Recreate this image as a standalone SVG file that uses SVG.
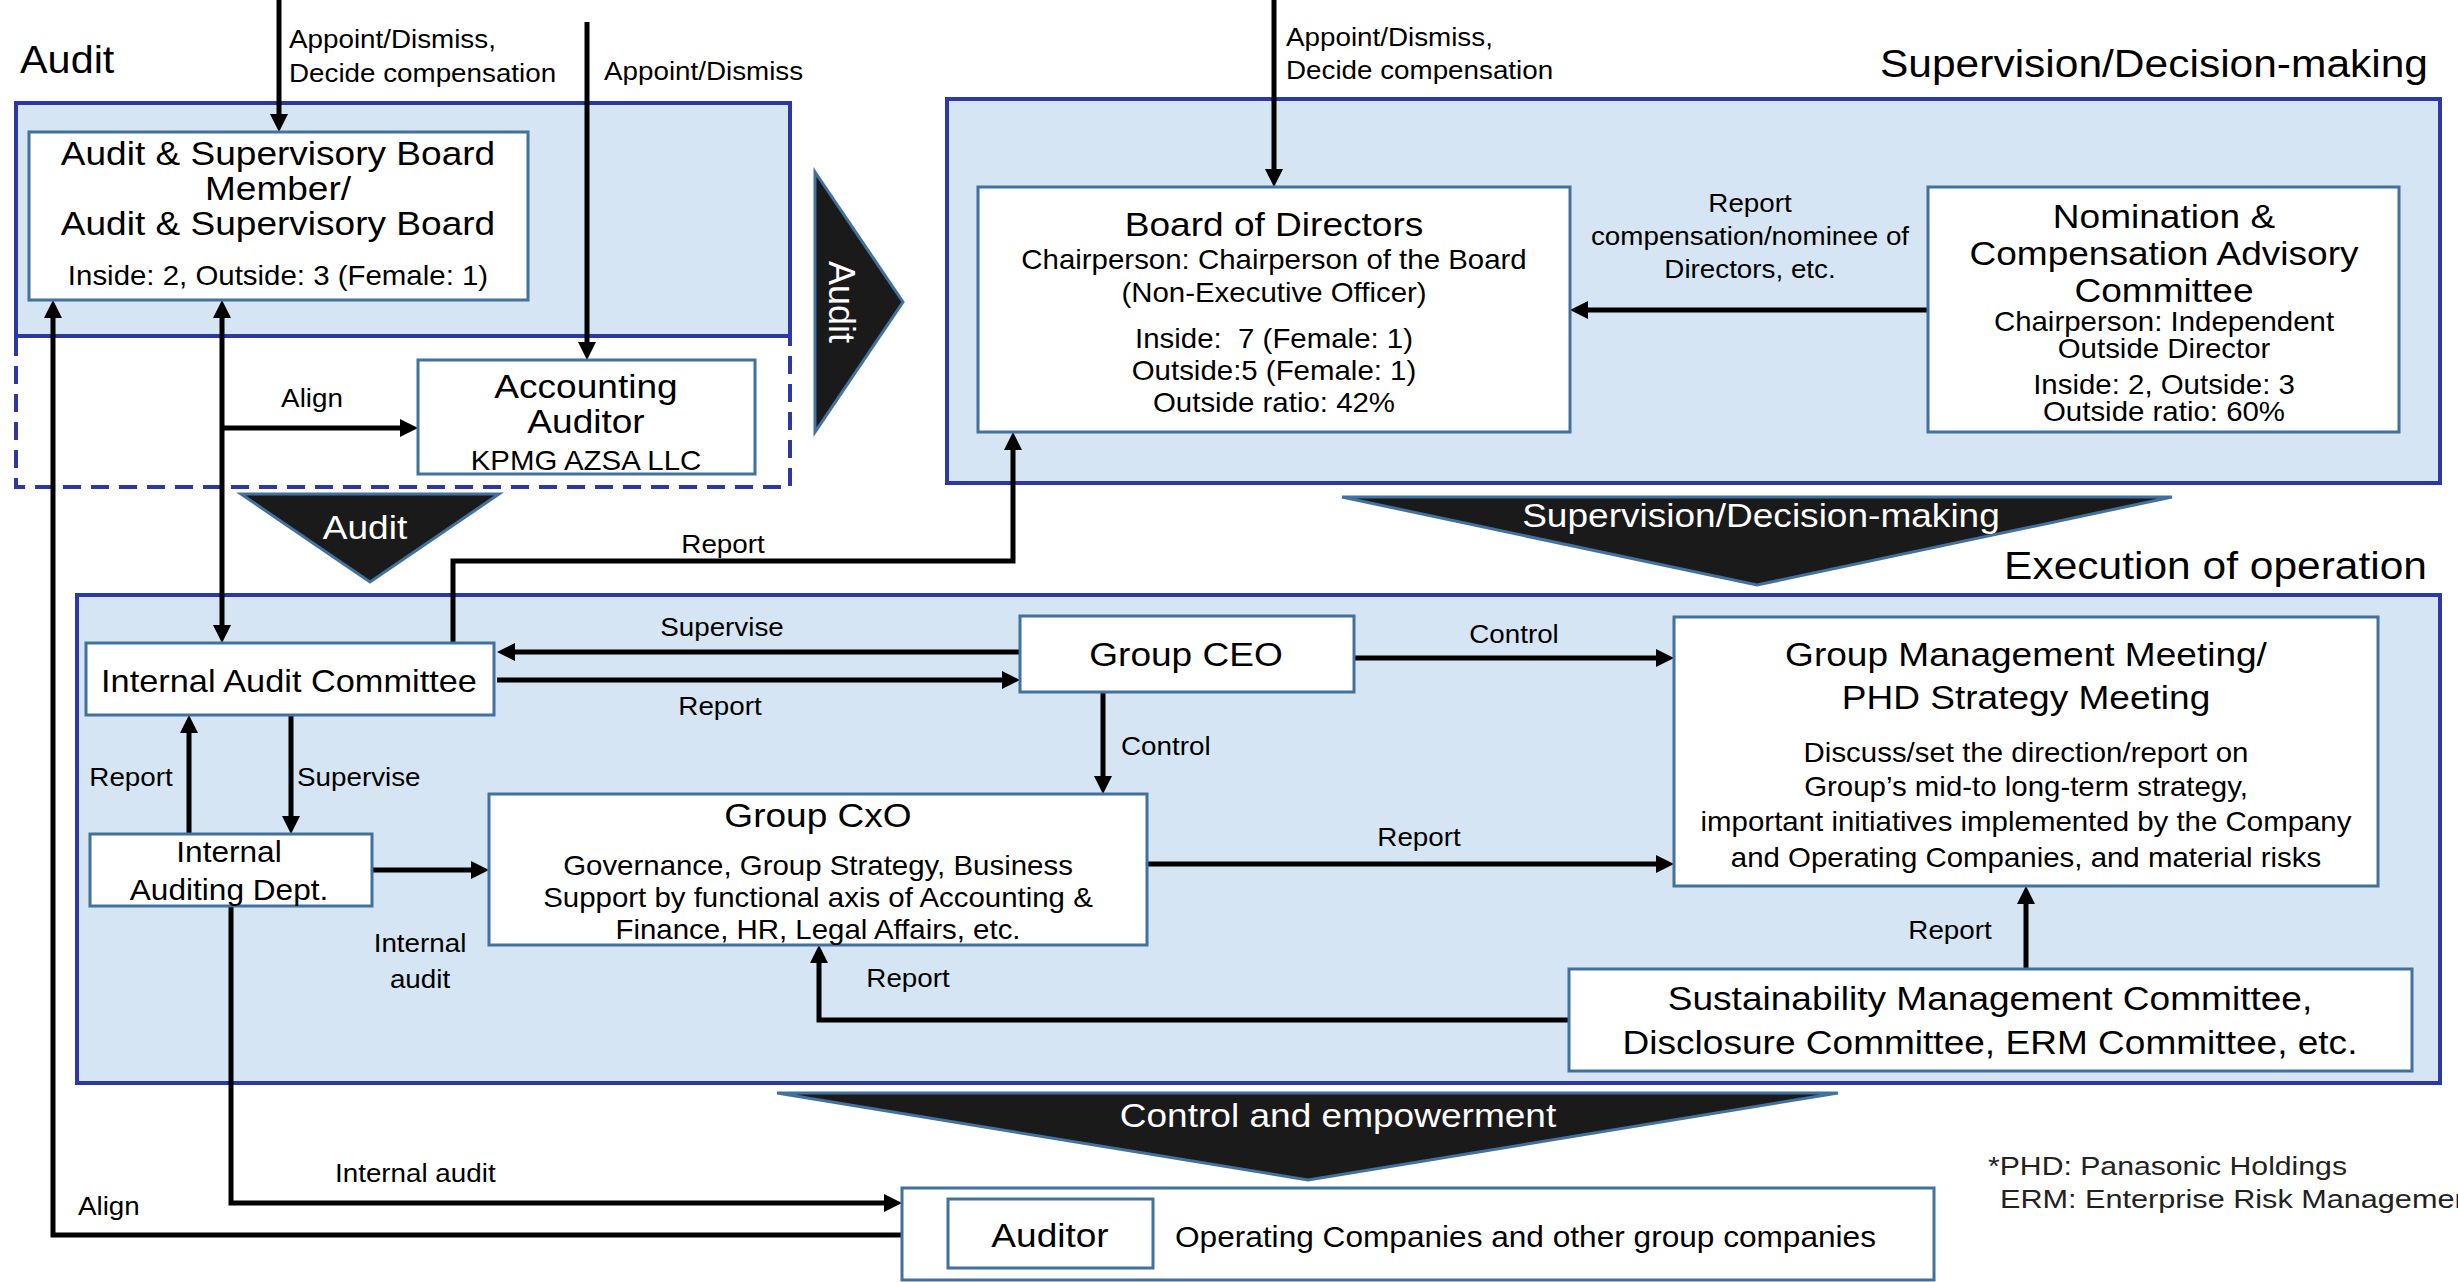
<svg xmlns="http://www.w3.org/2000/svg" width="2458" height="1282" viewBox="0 0 2458 1282">
<style>
.t{font-family:"Liberation Sans",Arial,sans-serif;fill:#000}
.big{font-size:34px}
.med{font-size:27px}
.lbl{font-size:25.5px}
.ttl{font-size:39px}
.c{text-anchor:middle}
.r{text-anchor:end}
.w{fill:#fff}
.region{fill:#D5E5F3;stroke:#2E37A6;stroke-width:4}
.dash{fill:none;stroke:#2E37A6;stroke-width:4;stroke-dasharray:18 10}
.node{fill:#fff;stroke:#41719C;stroke-width:3}
.tri{fill:#1A1A1A;stroke:#41719C;stroke-width:3}
.conn{fill:none;stroke:#000;stroke-width:5}
.fn{font-family:"Liberation Sans",Arial,sans-serif;font-size:25px;fill:#222}
</style>
<defs>
<marker id="ah" markerUnits="userSpaceOnUse" markerWidth="18" markerHeight="18" refX="1" refY="9" orient="auto-start-reverse"><path d="M0,0 L18,9 L0,18 z" fill="#000"/></marker>
</defs>
<rect width="2458" height="1282" fill="#fff"/>
<g id="regions">
<rect class="region" x="16" y="103" width="774" height="233"/>
<path class="dash" d="M16,338 V487 H790 V338"/>
<rect class="region" x="947" y="99" width="1493" height="384"/>
<rect class="region" x="77" y="595" width="2363" height="488"/>
<text class="t" style="font-size:38px" transform="translate(20 73) scale(1.09 1)">Audit</text>
<text class="t ttl r" transform="translate(2428 77) scale(1.09 1)">Supervision/Decision-making</text>
<text class="t ttl r" transform="translate(2427 579) scale(1.09 1)">Execution of operation</text>
</g>
<g id="flows">
<polygon class="tri" points="815,172 903,302 815,432"/>
<text class="t w c" style="font-size:36px" transform="translate(829 302) rotate(90)">Audit</text>
<polygon class="tri" points="241,494 499,494 370,582"/>
<text class="t big w c" transform="translate(365 539) scale(1.09 1)">Audit</text>
<polygon class="tri" points="1342,497 2172,497 1757,585"/>
<text class="t big w c" transform="translate(1761 527) scale(1.09 1)">Supervision/Decision-making</text>
<polygon class="tri" points="777,1093 1838,1093 1308,1180"/>
<text class="t big w c" transform="translate(1338 1127) scale(1.09 1)">Control and empowerment</text>
</g>
<g id="connectors">
<path class="conn" d="M279,0 V115" marker-end="url(#ah)"/>
<path class="conn" d="M587,22 V343" marker-end="url(#ah)"/>
<path class="conn" d="M222,428 H401" marker-end="url(#ah)"/>
<path class="conn" d="M222,317 V626" marker-start="url(#ah)" marker-end="url(#ah)"/>
<path class="conn" d="M53,317 V1235 H930" marker-start="url(#ah)" marker-end="url(#ah)"/>
<path class="conn" d="M231,906 V1203 H885" marker-end="url(#ah)"/>
<path class="conn" d="M453,643 V561 H1013 V449" marker-end="url(#ah)"/>
<path class="conn" d="M1020,652 H514" marker-end="url(#ah)"/>
<path class="conn" d="M497,680 H1003" marker-end="url(#ah)"/>
<path class="conn" d="M1354,658 H1657" marker-end="url(#ah)"/>
<path class="conn" d="M1103,692 V777" marker-end="url(#ah)"/>
<path class="conn" d="M1147,864 H1657" marker-end="url(#ah)"/>
<path class="conn" d="M1569,1020 H819 V962" marker-end="url(#ah)"/>
<path class="conn" d="M2026,969 V903" marker-end="url(#ah)"/>
<path class="conn" d="M189,834 V732" marker-end="url(#ah)"/>
<path class="conn" d="M291,715 V817" marker-end="url(#ah)"/>
<path class="conn" d="M372,870 H472" marker-end="url(#ah)"/>
<path class="conn" d="M1928,310 H1587" marker-end="url(#ah)"/>
<path class="conn" d="M1274,0 V170" marker-end="url(#ah)"/>
<text class="t lbl" transform="translate(289 48) scale(1.09 1)"><tspan x="0" y="0">Appoint/Dismiss,</tspan><tspan x="0" y="34">Decide compensation</tspan></text>
<text class="t lbl" transform="translate(604 80) scale(1.09 1)">Appoint/Dismiss</text>
<text class="t lbl" transform="translate(1286 46) scale(1.09 1)"><tspan x="0" y="0">Appoint/Dismiss,</tspan><tspan x="0" y="33">Decide compensation</tspan></text>
<text class="t lbl c" transform="translate(1750 212) scale(1.09 1)"><tspan x="0" y="0">Report</tspan><tspan x="0" y="33">compensation/nominee of</tspan><tspan x="0" y="66">Directors, etc.</tspan></text>
<text class="t lbl c" transform="translate(312 407) scale(1.09 1)">Align</text>
<text class="t lbl c" transform="translate(723 553) scale(1.09 1)">Report</text>
<text class="t lbl c" transform="translate(722 636) scale(1.09 1)">Supervise</text>
<text class="t lbl c" transform="translate(720 715) scale(1.09 1)">Report</text>
<text class="t lbl c" transform="translate(1514 643) scale(1.09 1)">Control</text>
<text class="t lbl" transform="translate(1121 755) scale(1.09 1)">Control</text>
<text class="t lbl c" transform="translate(1419 846) scale(1.09 1)">Report</text>
<text class="t lbl c" transform="translate(908 987) scale(1.09 1)">Report</text>
<text class="t lbl c" transform="translate(1950 939) scale(1.09 1)">Report</text>
<text class="t lbl c" transform="translate(131 786) scale(1.09 1)">Report</text>
<text class="t lbl" transform="translate(297 786) scale(1.09 1)">Supervise</text>
<text class="t lbl c" transform="translate(420 952) scale(1.09 1)"><tspan x="0" y="0">Internal</tspan><tspan x="0" y="36">audit</tspan></text>
<text class="t lbl" transform="translate(335 1182) scale(1.09 1)">Internal audit</text>
<text class="t lbl" transform="translate(78 1215) scale(1.09 1)">Align</text>
</g>
<g id="asb">
<rect class="node" x="29" y="132" width="499" height="168"/>
<text class="t big c" transform="translate(278 165) scale(1.09 1)"><tspan x="0" y="0">Audit &amp; Supervisory Board</tspan><tspan x="0" y="35">Member/</tspan><tspan x="0" y="70">Audit &amp; Supervisory Board</tspan></text>
<text class="t med c" transform="translate(278 285) scale(1.09 1)">Inside: 2, Outside: 3 (Female: 1)</text>
</g>
<g id="accounting-auditor">
<rect class="node" x="418" y="360" width="337" height="114"/>
<text class="t big c" transform="translate(586 398) scale(1.09 1)"><tspan x="0" y="0">Accounting</tspan><tspan x="0" y="35">Auditor</tspan></text>
<text class="t med c" transform="translate(586 470) scale(1.09 1)">KPMG AZSA LLC</text>
</g>
<g id="board">
<rect class="node" x="978" y="187" width="592" height="245"/>
<text class="t big c" transform="translate(1274 236) scale(1.09 1)">Board of Directors</text>
<text class="t med c" transform="translate(1274 269) scale(1.09 1)"><tspan x="0" y="0">Chairperson: Chairperson of the Board</tspan><tspan x="0" y="33">(Non-Executive Officer)</tspan><tspan x="0" y="79">Inside: &#160;7 (Female: 1)</tspan><tspan x="0" y="111">Outside:5 (Female: 1)</tspan><tspan x="0" y="143">Outside ratio: 42%</tspan></text>
</g>
<g id="ncac">
<rect class="node" x="1928" y="187" width="471" height="245"/>
<text class="t big c" transform="translate(2164 228) scale(1.09 1)"><tspan x="0" y="0">Nomination &amp;</tspan><tspan x="0" y="37">Compensation Advisory</tspan><tspan x="0" y="74">Committee</tspan></text>
<text class="t med c" transform="translate(2164 331) scale(1.09 1)"><tspan x="0" y="0">Chairperson: Independent</tspan><tspan x="0" y="27">Outside Director</tspan><tspan x="0" y="63">Inside: 2, Outside: 3</tspan><tspan x="0" y="90">Outside ratio: 60%</tspan></text>
</g>
<g id="iac">
<rect class="node" x="86" y="643" width="408" height="72"/>
<text class="t c" style="font-size:31.5px" transform="translate(289 692) scale(1.09 1)">Internal Audit Committee</text>
</g>
<g id="ceo">
<rect class="node" x="1020" y="616" width="334" height="76"/>
<text class="t big c" transform="translate(1186 666) scale(1.09 1)">Group CEO</text>
</g>
<g id="gmm">
<rect class="node" x="1674" y="617" width="704" height="269"/>
<text class="t big c" transform="translate(2026 666) scale(1.09 1)"><tspan x="0" y="0">Group Management Meeting/</tspan><tspan x="0" y="43">PHD Strategy Meeting</tspan></text>
<text class="t med c" transform="translate(2026 762) scale(1.09 1)"><tspan x="0" y="0">Discuss/set the direction/report on</tspan><tspan x="0" y="34">Group’s mid-to long-term strategy,</tspan><tspan x="0" y="69">important initiatives implemented by the Company</tspan><tspan x="0" y="105">and Operating Companies, and material risks</tspan></text>
</g>
<g id="iad">
<rect class="node" x="90" y="834" width="282" height="72"/>
<text class="t c" style="font-size:29px" transform="translate(229 862) scale(1.09 1)"><tspan x="0" y="0">Internal</tspan><tspan x="0" y="38">Auditing Dept.</tspan></text>
</g>
<g id="cxo">
<rect class="node" x="489" y="794" width="658" height="151"/>
<text class="t big c" transform="translate(818 827) scale(1.09 1)">Group CxO</text>
<text class="t med c" transform="translate(818 875) scale(1.09 1)"><tspan x="0" y="0">Governance, Group Strategy, Business</tspan><tspan x="0" y="32">Support by functional axis of Accounting &amp;</tspan><tspan x="0" y="64">Finance, HR, Legal Affairs, etc.</tspan></text>
</g>
<g id="committees">
<rect class="node" x="1569" y="969" width="843" height="102"/>
<text class="t big c" transform="translate(1990 1010) scale(1.09 1)"><tspan x="0" y="0">Sustainability Management Committee,</tspan><tspan x="0" y="44">Disclosure Committee, ERM Committee, etc.</tspan></text>
</g>
<g id="group-companies">
<rect class="node" x="902" y="1188" width="1032" height="92"/>
<text class="t" style="font-size:29px" transform="translate(1175 1247) scale(1.09 1)">Operating Companies and other group companies</text>
</g>
<g id="auditor">
<rect class="node" x="948" y="1199" width="205" height="69"/>
<text class="t big c" transform="translate(1050 1247) scale(1.09 1)">Auditor</text>
</g>
<g id="footnote">
<text class="fn" x="1988" y="1175" textLength="359" lengthAdjust="spacingAndGlyphs">*PHD: Panasonic Holdings</text>
<text class="fn" x="2000" y="1208" textLength="480" lengthAdjust="spacingAndGlyphs">ERM: Enterprise Risk Management</text>
</g>
</svg>
